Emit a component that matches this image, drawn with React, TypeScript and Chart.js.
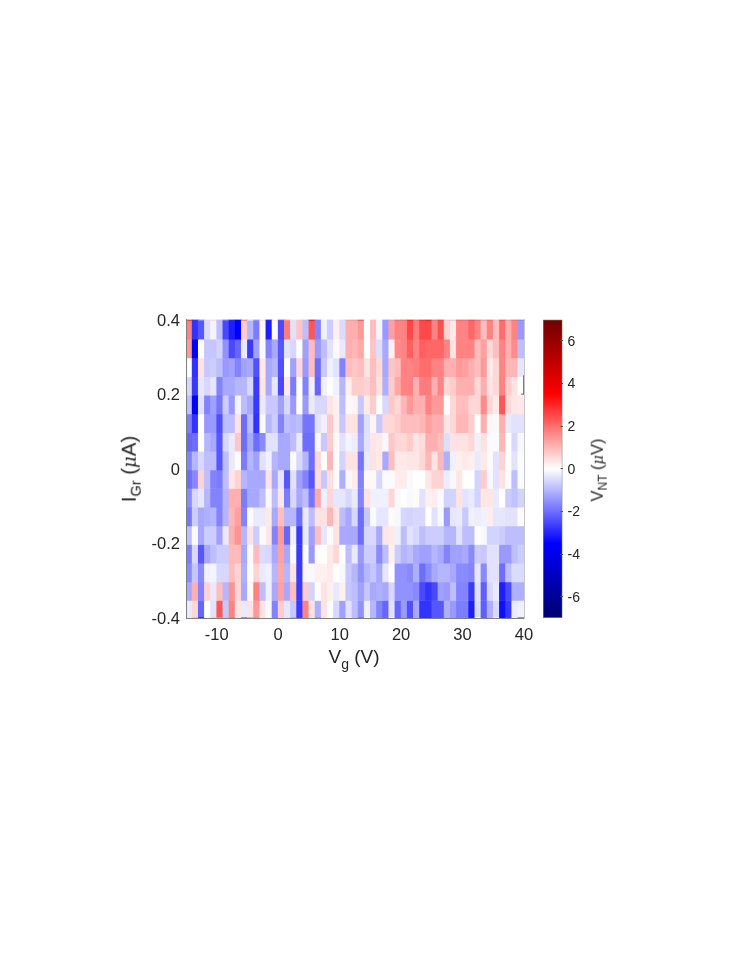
import React, { useEffect, useRef } from "react";
import { Chart, registerables } from "chart.js";

Chart.register(...registerables);

const FONT = '"Liberation Sans", Arial, sans-serif';
const INK = "#262626";

const vgCenters = [-14.5,-13.5,-12.5,-11.5,-10.5,-9.5,-8.5,-7.5,-6.5,-5.5,-4.5,-3.5,-2.5,-1.5,-0.5,0.5,1.5,2.5,3.5,4.5,5.5,6.5,7.5,8.5,9.5,10.5,11.5,12.5,13.5,14.5,15.5,16.5,17.5,18.5,19.5,20.5,21.5,22.5,23.5,24.5,25.5,26.5,27.5,28.5,29.5,30.5,31.5,32.5,33.5,34.5,35.5,36.5,37.5,38.5,39.5];
const rowEdges = [0.4,0.397,0.347,0.297,0.247,0.197,0.147,0.097,0.047,-0.003,-0.053,-0.103,-0.153,-0.203,-0.253,-0.303,-0.353,-0.397,-0.4];

const sliverTop = [2.6,-2.8,-1.7,-.5,.5,-.9,-2,-3,-3.5,1.6,-.6,-1.5,.4,-3,.3,-2.3,1.5,-.4,.8,-.9,3.1,-1.7,-.2,-.7,.2,-.5,1.3,1.4,2.2,0,.9,-.15,-1.4,1.4,2,2,2.9,2,2.8,3,2,2.6,.8,.8,2,2,2.4,2,1.4,2,1,2.3,1.4,2,-1.6];
const row1 = [1.7,-2.8,-2.3,-.5,-.15,-.9,-2.5,-3.1,-3.5,.7,-1,-1.8,.1,-3.1,.05,-2.5,1.8,-.4,.8,-.9,2.3,-1.7,-.2,-.7,.2,-.5,1.1,1.1,1.4,0,.9,-.15,-1.4,1.3,1.7,1.7,2.5,1.8,2.5,2.5,1.7,2.4,.6,.3,1.7,1.7,2.1,1.7,.9,1.7,.9,2,1.1,1.7,-1.4];
const row2 = [1.4,-3.5,0,-.8,-.8,-.6,-1.5,-2.5,-2.1,-.3,-2.7,-1.3,-.1,-1.7,-1.2,-2.3,-.4,-.55,0,-1.3,.9,-1.4,-.9,-.4,.1,-.3,1.1,1,1.2,0,.8,-.45,-1.2,.2,1.6,1.7,2.2,1.7,2.2,2.1,2.1,2.1,1.7,.4,1.7,1.7,1.7,.9,1.3,.55,.9,1.7,1.1,1.6,-.9];
const row3 = [0,-2.8,.4,-.75,-.7,-.9,-1.4,-1.3,-1.7,-1.3,-1.2,-2.4,.3,-1.2,-1,-2.4,0,-1.3,.55,-1.4,.9,-2,-.75,-.2,-.4,-1.7,.9,.8,.9,.4,.9,.5,-1.2,.8,.9,1.7,1.7,1.8,2,2,1.7,1.7,1.1,1.1,1.4,1.3,1.1,.9,1.4,.3,.55,1.7,1,1,-.35];
const row4 = [-.55,-2.7,-.35,-.55,-.35,-1.7,-1.2,-1.2,-1,-1,-.55,-2.7,.35,-1.2,-.35,-2.5,.3,-1.8,0,-1.7,-.2,-2.1,-.2,0,-.2,-1,.2,.7,.7,.6,.9,.4,-1.1,.7,1.2,1.7,1.7,1.1,1.8,1.8,1.1,1.7,.55,.7,1.1,1.1,1.1,.55,1.1,.4,.55,1.7,.7,.4,0];
const row5 = [-.9,-3.5,-.4,-1.7,-1.3,-1.9,-.7,-1.4,-.15,-.9,-1.2,-2.7,-.3,-.75,-.75,-1.3,-.55,-1.4,0,-1.4,-.3,-.55,-.55,.4,.2,-.9,.1,.15,-.75,.3,.7,0,-.55,.75,.55,1,1.4,1.1,1.1,1.7,1.4,1.4,0,.55,.9,.9,.55,.55,1.6,.55,.3,2.3,.5,.35,.3];
const row6 = [-1.8,-2.8,0,-1.4,-1.4,-2.4,-.9,-.9,.4,-2,-.9,-2.8,-.05,-1,-.7,-1.7,-.9,-1,-.9,-1.9,-1.9,-.4,-.2,.75,.2,-.75,.4,.4,-1.3,-.45,.15,-.75,.55,.55,.7,.9,.9,.9,1,1.3,1.1,1.1,.35,.55,1,1,.7,0,1.1,.1,.1,1.1,-.3,-.4,-.4];
const row7 = [-2.1,-2,0,-1,-1.2,-2.3,-.55,-.3,.75,-2,-1.2,-2,-1.6,-.4,-.4,-1.2,-1.2,-.9,-.3,-2,-2,-.1,-.75,.7,.1,-.4,-.15,-.25,-1.2,-.4,.35,.3,-.1,.75,.55,.55,.7,.4,.5,1.1,1.1,.9,-.45,.4,.4,.4,.55,-.2,.4,-.05,-.05,1,0,-.55,-.1];
const row8 = [-1.7,-1,-.55,-.9,-.9,-2.3,-.9,-.3,.05,-1.8,-1,-1.3,-.4,-.2,-1,-1.2,-1.2,-.05,-.55,-1,-2,.55,0,1,0,-.6,.4,.4,-1.9,-.3,.4,.3,-1.2,.9,.3,.3,.35,.35,.55,1,.4,1,-1.1,-.2,.2,.3,.2,-.3,.3,-.05,-.4,.6,0,-.4,-.05];
const row9 = [-2,-1.6,.6,-.9,-1.7,-1.8,-.9,.35,.6,-1,-1.2,-1.2,-1.2,.4,-1.2,-.35,-2.3,-.4,-1.3,-1.7,-2.3,.45,-.75,.45,.05,-1.1,-.1,.25,-1.7,.1,.1,-.55,-.05,-.05,.25,.25,-.1,0,0,.35,.6,.6,-.25,-.1,.35,0,0,-.6,.7,-.1,-.4,.4,-.05,-.9,-.05];
const row10 = [-1.6,-.55,-.35,-1,-1.7,-1.7,-1,1.1,1.1,-1.8,-1.2,-1.2,-.9,-.1,-.9,.35,-1.8,-.55,-1.2,-.9,-1.9,1.2,-.2,.55,-.35,-.35,-.55,-.3,-1.7,.4,-.2,-.2,-.2,.55,-.1,0,-.1,.05,-.4,.2,.25,-.05,-.6,-.6,.4,-.4,-.3,-.6,.35,.35,-.3,0,-.7,-.85,-.6];
const row11 = [-1.9,-.7,-1.2,-1.1,-1,-1.7,-1,1,1.3,-1.7,-.05,-.3,-.3,.3,-1.2,.9,-1,-1,-2,-.3,-.9,.4,.4,1,.4,-.9,-1.2,-.55,-2,-.75,-.05,-.35,-.35,.05,-.1,-.55,-.6,-.55,-.55,0,-.4,-.1,-1.4,-.35,-.3,-.75,-.2,-.25,-.2,.25,-.35,-.35,-.4,-.4,.05];
const row12 = [-.9,-.05,-1.2,-.7,-.7,-1.3,-.3,1.1,1.5,-1,.4,-.7,-.05,.35,-1.7,1.4,-2.1,-.2,-2.7,-.3,-1.3,.9,-.35,.05,.4,-1.2,-1.2,-1.2,-2,-.55,-.55,-1.2,.35,.3,-.2,-.9,-.4,-.55,-.9,-.7,-.7,-.7,-1,-1,-.4,-.9,-.9,0,-.1,-.6,-.6,-.7,-.9,-.9,-.9];
const row13 = [-1.8,-.55,-2.3,-1.2,-.9,-.7,-.7,.95,.95,-1.2,-.05,.95,-.5,-.55,-1.2,1.3,-1.2,-.05,-2.7,-.05,-1.4,0,0,.3,.55,0,-.9,-.3,-1.4,-.7,-.7,-1.6,-.9,.2,-.7,-1,-.9,-1.2,-1.3,-1.3,-1,-1.2,-1.7,-1.3,-1.3,-1.2,-1.6,-.7,-.75,-.4,-.4,-1.4,-1.4,-.9,-.7];
const row14 = [-1.6,-.8,-1.6,-.2,-.15,-.55,-.55,.9,.6,-1.1,0,.6,-.3,-.2,-1,1.2,-1,.4,-2.7,.15,-.1,.2,.2,.3,0,-.1,-.75,-1,-1.5,-1,-.8,-1.2,-.35,0,-1.5,-1.5,-1.6,-1.1,-2,-1.6,-1.2,-1,-1,-1.2,-1.6,-1.6,-1.7,-.35,-1.6,-.4,-.4,-2,-.9,-.5,-.5];
const row15 = [-1.2,1.1,-1.7,.6,-.3,.9,-1,1.5,.55,-1.2,.1,1.7,-.9,-.2,-1.2,1.3,-1.2,.9,-2.7,.7,-.6,0,.4,.2,-.3,.2,-.8,-.9,-1.3,-.8,-1.2,-1.1,-1.2,-.55,-1.5,-1.5,-1.5,-1.6,-2.5,-2.8,-2.5,-1.3,-1.4,-.9,-1.7,-1.7,-2.7,-.4,-2.2,-.55,-.3,-3.1,-2.5,-1.1,-1.1];
const row16 = [-.3,.55,-2.1,0,-.4,2.3,-.75,1.7,.4,-.3,.4,1.4,.4,-.1,-1.7,.7,-.35,-.75,-2.7,1.7,.4,-1.1,.4,0,-.55,-1.3,-.4,-.9,-1.5,-.2,-1,-1.7,-2.1,-.4,-2.1,-1.4,-2.4,-1.2,-2.8,-2.8,-2.3,-2.3,-1.1,-1.4,-1.8,-1.8,-3.1,-.5,-2.2,-1.1,-.55,-3.3,-2.7,-.3,-.2];
const sliverBottom = [-.3,.9,-3,0,.9,1.6,-.75,1.9,.4,-2,1.4,1.6,.4,-.1,-1.7,.7,-.35,-1.2,-2.7,1.7,.4,-1.5,.4,0,-.55,-1.3,-.4,-.9,-2,0,-1,-1.7,-2.1,0,-2.1,-1.4,-2.4,-1.2,-2.8,-2.8,-2.3,-2.3,-1.1,-1.4,-1.8,-1.8,-3.1,0,-2.2,-1.1,0,-3.3,-2.7,-.3,-2];
const rows = [sliverTop,row1,row2,row3,row4,row5,row6,row7,row8,row9,row10,row11,row12,row13,row14,row15,row16,sliverBottom];

const colorbarLimits = [-7, 7];
const colorbarTicks = [-6, -4, -2, 0, 2, 4, 6];
const colorbarStops: [number, string][] = [[0,"rgb(0,0,110)"],[0.25,"rgb(0,0,255)"],[0.5,"rgb(255,255,255)"],[0.75,"rgb(255,0,0)"],[1,"rgb(110,0,0)"]];

function cellColor(v: number) {
  const t = Math.min(1, Math.abs(v) / 3.5);
  const c = Math.round(255 * (1 - t));
  return v >= 0 ? `rgb(255,${c},${c})` : `rgb(${c},${c},255)`;
}

const axisFont = { family: FONT, size: 16.5 };
const barFont = { family: FONT, size: 14 };

export default function App() {
  const mainRef = useRef<HTMLCanvasElement>(null);
  const barRef = useRef<HTMLCanvasElement>(null);

  useEffect(() => {
    const datasets: any[] = rows.map((vals, r) => ({
      type: "bar",
      stack: "cells",
      data: vals.map((_, c) => ({ x: vgCenters[c], y: [rowEdges[r + 1], rowEdges[r]] })),
      backgroundColor: vals.map(cellColor),
      borderWidth: 0,
      barPercentage: 1,
      categoryPercentage: 1,
    }));
    datasets.push({
      type: "line",
      data: [{ x: 40, y: 0.25 }, { x: 40, y: 0.2 }, { x: 39.5, y: 0.2 }],
      borderColor: "#666666",
      borderWidth: 1,
      pointRadius: 0,
      order: -1,
      clip: false,
    });
    const main = new Chart(mainRef.current!, {
      type: "bar",
      data: { datasets },
      options: {
        animation: false,
        responsive: false,
        events: [],
        layout: { padding: { left: 0, top: 319.5, right: 223, bottom: 300 } },
        plugins: { legend: { display: false }, tooltip: { enabled: false } },
        scales: {
          x: {
            type: "linear", stacked: true, offset: false, min: -15, max: 40,
            grid: { display: false, offset: false, drawTicks: false },
            border: { color: "#7f7f7f", width: 1, z: 1 },
            ticks: { stepSize: 10, includeBounds: false, maxRotation: 0, padding: 8, color: INK, font: axisFont },
            afterFit: (s: any) => { s.height = 49; },
          },
          y: {
            type: "linear", stacked: false, min: -0.4, max: 0.4,
            grid: { display: false, drawTicks: false },
            border: { color: "#7f7f7f", width: 1, z: 1 },
            ticks: { stepSize: 0.2, includeBounds: false, padding: 6, labelOffset: 1.5, color: INK, font: axisFont,
              callback: (v: any) => String(Math.round(v * 10) / 10) },
            afterFit: (s: any) => { s.width = 186; },
          },
          y2: {
            type: "linear", position: "right", min: -0.4, max: 0.4,
            grid: { display: false, drawTicks: false },
            border: { color: "#c8c8c8", width: 1, z: 1 },
            ticks: { display: false },
            afterFit: (s: any) => { s.width = 0; },
          },
        },
      } as any,
    });

    const bar = new Chart(barRef.current!, {
      type: "bar",
      data: {
        labels: ["V_NT"],
        datasets: [{
          data: [colorbarLimits as any],
          borderWidth: 1,
          borderColor: "#7f7f7f",
          borderSkipped: false,
          barPercentage: 1,
          categoryPercentage: 1,
          backgroundColor: (ctx: any) => {
            const a = ctx.chart.chartArea;
            if (!a) return "#fff";
            const g = ctx.chart.ctx.createLinearGradient(0, a.bottom, 0, a.top);
            colorbarStops.forEach(([p, c]) => g.addColorStop(p, c));
            return g;
          },
        }],
      },
      options: {
        animation: false,
        responsive: false,
        events: [],
        layout: { padding: { left: 543, top: 319.5, right: 154.5, bottom: 349 } },
        plugins: { legend: { display: false }, tooltip: { enabled: false } },
        scales: {
          x: { display: false },
          y: {
            position: "right", min: -7, max: 7,
            grid: { drawOnChartArea: false, drawTicks: true, tickLength: -2, color: "#555555", z: 1 },
            border: { display: false },
            ticks: { padding: 7, labelOffset: 1, color: INK, font: barFont },
            afterBuildTicks: (s: any) => { s.ticks = colorbarTicks.map((value) => ({ value })); },
            afterFit: (s: any) => { s.width = 30; },
          },
        },
      } as any,
    });
    return () => { main.destroy(); bar.destroy(); };
  }, []);

  const label: React.CSSProperties = {
    position: "absolute", fontFamily: FONT, color: INK, whiteSpace: "nowrap", lineHeight: 1,
  };
  const sub = (size: number, drop: number): React.CSSProperties => ({
    fontSize: size, position: "relative", top: drop,
  });
  const canvasStyle: React.CSSProperties = { position: "absolute", left: 0, top: 0, display: "block" };

  return (
    <div style={{ position: "absolute", left: 0, top: 0, width: 747, height: 967, background: "#fff", overflow: "hidden" }}>
      <canvas ref={mainRef} width={747} height={967} style={canvasStyle} />
      <canvas ref={barRef} width={747} height={967} style={canvasStyle} />
      <div style={{ ...label, fontSize: 19, left: 354, top: 647, transform: "translateX(-50%)" }}>
        V<span style={sub(14, 6)}>g</span> (V)
      </div>
      <div style={{ ...label, fontSize: 20.5, left: 129, top: 469, transform: "translate(-50%,-50%) rotate(-90deg)" }}>
        I<span style={sub(14.5, 5)}>Gr</span> (<i style={{ fontFamily: '"DejaVu Serif", serif', fontSize: 18 }}>μ</i>A)
      </div>
      <div style={{ ...label, fontSize: 16.5, left: 597, top: 470, transform: "translate(-50%,-50%) rotate(-90deg)" }}>
        V<span style={sub(12, 4)}>NT</span> (<i style={{ fontFamily: '"DejaVu Serif", serif', fontSize: 14.5 }}>μ</i>V)
      </div>
    </div>
  );
}
